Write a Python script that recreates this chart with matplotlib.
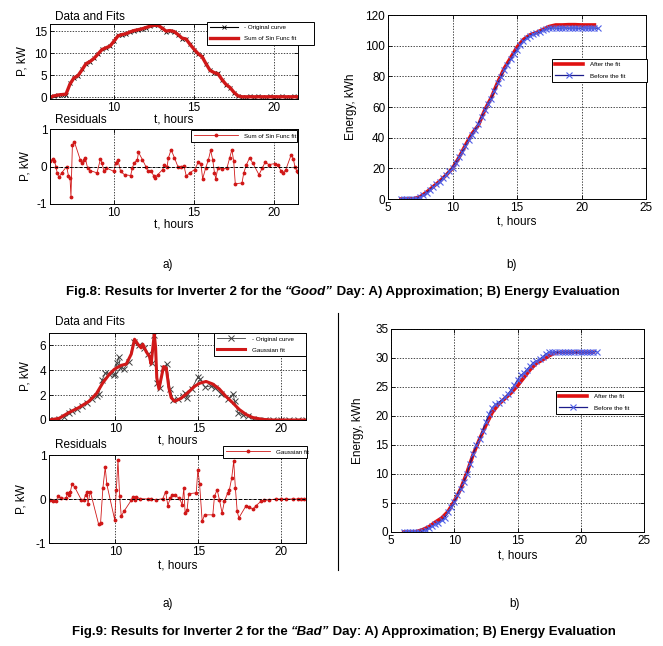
import numpy as np
import matplotlib
matplotlib.use('Agg')
import matplotlib.pyplot as plt
from matplotlib.lines import Line2D
from matplotlib.offsetbox import TextArea, HPacker, AnchoredOffsetbox

# ---- "Good" day (Fig.8) ----
# power, sampled every 15 min from 6:00
p_good_orig = [0.0, 0.2, 0.5, 0.6, 0.6, 3.2, 4.4, 4.8, 6.3, 7.6,
               8.0, 8.8, 9.8, 10.9, 11.1, 11.6, 12.8, 14.0, 14.2, 14.3,
               14.8, 15.1, 15.3, 15.5, 15.8, 16.1, 16.4, 16.3, 15.7, 14.9,
               15.1, 14.9, 14.2, 13.3, 13.2, 12.0, 10.8, 9.9, 9.3, 7.5,
               6.1, 5.6, 5.4, 4.0, 2.8, 2.2, 1.0, 0.3, 0.1, 0.0,
               0.2, 0.1, 0.2, 0.0, 0.1, 0.2, 0.0, 0.1, 0.2, 0.0,
               0.1, 0.2, 0.1]
p_good_fit = [0.0, 0.3, 0.5, 0.6, 0.7, 3.0, 4.4, 4.9, 6.2, 7.6,
              8.1, 8.8, 9.8, 10.8, 11.2, 11.6, 12.7, 13.9, 14.2, 14.4,
              14.8, 15.1, 15.3, 15.5, 15.8, 16.1, 16.3, 16.3, 15.7, 15.0,
              15.1, 14.9, 14.2, 13.4, 13.2, 12.0, 10.9, 9.9, 9.2, 7.6,
              6.1, 5.6, 5.3, 4.0, 2.9, 2.2, 1.1, 0.3, 0.1, 0.1,
              0.1, 0.1, 0.1, 0.1, 0.1, 0.1, 0.1, 0.1, 0.1, 0.1,
              0.1, 0.1, 0.1]

res_good_t = [6.03, 6.16, 6.27, 6.37, 6.45, 6.56, 6.73, 7.04, 7.15, 7.25,
              7.31, 7.4, 7.53, 7.89, 7.99, 8.1, 8.2, 8.35, 8.52, 8.94,
              9.15, 9.26, 9.36, 9.53, 9.99, 10.1, 10.24, 10.41, 10.66, 11.04,
              11.15, 11.25, 11.46, 11.53, 11.78, 11.99, 12.1, 12.31, 12.48, 12.56,
              12.73, 13.04, 13.15, 13.32, 13.4, 13.57, 13.78, 13.99, 14.2, 14.37,
              14.52, 14.73, 15.05, 15.26, 15.43, 15.54, 15.73, 15.9, 16.04, 16.17,
              16.28, 16.36, 16.49, 16.74, 17.06, 17.23, 17.37, 17.48, 17.58, 18.0,
              18.11, 18.28, 18.47, 18.68, 19.06, 19.27, 19.44, 19.69, 20.07, 20.22,
              20.43, 20.57, 20.74, 21.08, 21.21, 21.31, 21.42, 21.5]
res_good = [0.14, 0.2, 0.16, 0.0, -0.17, -0.29, -0.17, 0.0, -0.24, -0.3,
            -0.81, 0.58, 0.65, 0.18, 0.09, 0.18, 0.23, -0.04, -0.11, -0.17,
            0.2, 0.09, -0.13, -0.04, -0.13, 0.09, 0.18, -0.13, -0.22, -0.24,
            -0.04, 0.09, 0.18, 0.38, 0.18, 0.0, -0.11, -0.13, -0.24, -0.3,
            -0.22, -0.08, 0.05, 0.0, 0.23, 0.45, 0.23, 0.0, -0.01, 0.02,
            -0.26, -0.17, -0.08, 0.11, 0.08, -0.33, -0.04, 0.18, 0.43, 0.18,
            -0.17, -0.33, -0.04, -0.07, -0.04, 0.23, 0.45, 0.14, -0.46, -0.44,
            -0.17, 0.05, 0.23, 0.09, -0.22, -0.04, 0.11, 0.05, 0.08, 0.05,
            -0.11, -0.17, -0.08, 0.32, 0.2, -0.01, -0.11, -0.14]

# energy: after fit every 30 min, before fit every 15 min
e_good_after = [0, 0, 0.2, 1.5, 4.5, 8, 11.5, 15.5, 20, 27,
                35, 42.5, 48, 58, 66, 76, 85, 92, 99, 104,
                107, 108.5, 110.5, 112.5, 113.5, 113.5, 113.7, 113.7, 113.5, 113.5,
                113.5]
e_good_before = [0, 0, 0, 0, 0, 0.3, 1.5, 2.8, 4.2, 6.0,
                 7.8, 9.5, 11.2, 13.5, 15.8, 18.2, 20.5, 23.8, 27.2, 30.8,
                 34.5, 38.5, 42.0, 45.0, 49.0, 53.5, 58.0, 62.0, 65.5, 70.5,
                 75.5, 79.8, 84.0, 87.5, 91.0, 94.5, 97.5, 100.5, 103.0, 105.0,
                 106.5, 107.5, 108.2, 109.0, 110.0, 110.8, 111.2, 111.5,
                 111.5, 111.3, 111.5, 111.6, 111.4, 111.5, 111.5, 111.3, 111.5, 111.6,
                 111.4, 111.5, 111.5, 111.4]

# ---- "Bad" day (Fig.9) ----
p_bad_t = [6.0, 6.3, 6.6, 6.9, 7.2, 7.4, 7.7, 8.0, 8.3, 8.6,
           8.9, 9.0, 9.2, 9.4, 9.6, 9.9, 10.0, 10.1, 10.2, 10.3,
           10.5, 10.8, 11.1, 11.4, 11.7, 12.0, 12.2, 12.35, 12.5, 12.7,
           12.9, 13.1, 13.3, 13.5, 13.8, 14.1, 14.2, 14.3, 14.6, 15.0,
           15.1, 15.4, 15.8, 16.0, 16.4, 16.8, 17.1, 17.2, 17.4, 17.7,
           18.0, 18.3, 18.6, 19.0, 19.5, 20.0, 20.5, 21.0, 21.5]
p_bad_orig = [0, 0.02, 0.1, 0.25, 0.55, 0.7, 0.9, 1.15, 1.35, 1.7,
              1.95, 2.1, 3.2, 3.8, 3.7, 3.6, 3.7, 4.6, 5.1, 4.2,
              4.1, 4.7, 6.3, 6.0, 5.8, 5.3, 4.6, 6.8, 3.0, 2.6,
              4.2, 4.5, 2.5, 1.6, 1.65, 1.9, 2.2, 1.8, 2.5, 3.5,
              3.3, 2.65, 2.75, 2.6, 2.1, 1.7, 2.1, 1.5, 0.6, 0.4,
              0.3, 0.1, 0.0, 0, 0, 0, 0, 0, 0]
fit_bad_t = [6.0, 6.6, 7.2, 7.8, 8.4, 8.85, 9.25, 9.65, 9.96, 10.36,
             10.66, 10.96, 11.16, 11.36, 11.56, 11.66, 11.86, 12.06, 12.16, 12.26,
             12.35, 12.43, 12.5, 12.63, 12.77, 12.91, 13.07, 13.23, 13.37, 13.57,
             13.97, 14.37, 14.77, 15.07, 15.47, 15.87, 16.27, 16.67, 17.07, 17.47,
             17.88, 18.28, 18.88, 19.5, 20.5, 21.5]
p_bad_fit = [0.0, 0.13, 0.6, 1.0, 1.5, 2.1, 3.0, 3.7, 4.1, 4.4,
             4.5, 5.3, 6.5, 6.1, 5.8, 6.1, 5.5, 5.1, 4.5, 5.8,
             6.9, 5.8, 3.4, 2.5, 3.4, 4.3, 4.2, 2.6, 1.8, 1.5,
             1.75, 2.2, 2.7, 2.95, 3.1, 2.9, 2.5, 1.9, 1.4, 0.85,
             0.45, 0.2, 0.05, 0.0, 0.0, 0.0]

res_bad_t = [6.04, 6.24, 6.44, 6.54, 6.74, 7.04, 7.1, 7.2, 7.29, 7.39,
             7.55, 7.95, 8.09, 8.21, 8.29, 8.35, 8.49, 8.99, 9.11, 9.25,
             9.39, 9.49, 9.96, 10.06, 10.16, 10.26, 10.36, 10.52, 10.96, 11.06,
             11.16, 11.26, 11.46, 11.96, 12.16, 12.47, 12.87, 13.03, 13.17, 13.31,
             13.43, 13.57, 13.87, 14.03, 14.13, 14.21, 14.33, 14.43, 14.88, 14.98,
             15.08, 15.24, 15.38, 15.88, 15.98, 16.14, 16.28, 16.44, 16.58, 16.78,
             16.88, 17.02, 17.14, 17.24, 17.35, 17.45, 17.89, 18.09, 18.29, 18.49,
             18.79, 18.99, 19.29, 19.69, 20.0, 20.3, 20.7, 21.0, 21.2, 21.4]
res_bad = [-0.02, -0.04, -0.04, 0.06, 0.02, 0.02, 0.14, 0.1, 0.17, 0.34,
           0.27, -0.02, -0.03, 0.1, 0.15, -0.11, 0.17, -0.57, -0.55, 0.25,
           0.72, 0.33, -0.47, 0.21, 0.88, 0.06, -0.39, -0.28, -0.03, 0.05,
           -0.02, 0.05, 0.01, 0.0, 0.0, -0.02, 0.01, 0.17, -0.15, 0.02,
           0.1, 0.08, 0.02, -0.13, 0.25, -0.32, -0.24, 0.12, 0.14, 0.67,
           0.35, -0.51, -0.36, -0.36, 0.06, 0.21, -0.02, -0.32, -0.05, 0.14,
           0.21, 0.48, 0.86, 0.25, -0.28, -0.43, -0.15, -0.18, -0.23, -0.15,
           -0.05, -0.03, -0.02, 0.0, 0.0, 0.0, 0.0, 0.0, 0.0, 0.0]

e_bad_after = [0, 0, 0.05, 0.4, 0.9, 1.7, 2.4, 3.5, 5.3, 7.4,
               10.2, 13.4, 16.0, 18.4, 20.6, 22.0, 23.0, 24.0, 25.2, 26.6,
               28.0, 29.1, 29.7, 30.4, 30.9, 31.0, 31.0, 31.0, 31.0, 31.0,
               31.0]
e_bad_before = [0, 0, 0, 0, 0, 0.05, 0.2, 0.4, 0.7, 1.0,
                1.3, 1.6, 2.0, 2.5, 3.4, 4.3, 5.2, 6.4, 7.5, 8.7,
                10.0, 11.8, 13.5, 15.0, 16.0, 17.5, 19.0, 20.3, 21.4, 22.0,
                22.3, 22.7, 23.2, 23.8, 24.5, 25.3, 26.2, 27.0, 27.4, 28.0,
                28.6, 29.2, 29.5, 29.8, 30.2, 30.7, 31.0, 31.0, 31.0, 31.0,
                31.0, 31.0, 31.0, 31.0, 31.0, 31.0, 31.0, 31.0, 31.0, 31.0,
                31.1, 31.1]


def grid_times(vals, step):
    return 6.0 + step * np.arange(len(vals))


plt.rcParams['font.family'] = ['Liberation Sans', 'DejaVu Sans']
plt.rcParams['font.size'] = 8.5
plt.rcParams['axes.unicode_minus'] = False

W, H = 663, 646
fig = plt.figure(figsize=(W / 100, H / 100), dpi=100)
RED = '#d01818'
NAVY = '#1c1c8a'
LBLUE = '#4f5fe8'


def add_ax(x0, y0, x1, y1):
    return fig.add_axes([x0 / W, 1 - y1 / H, (x1 - x0) / W, (y1 - y0) / H])


def style(ax):
    ax.grid(True, color='black', linestyle=(0, (2, 2)), linewidth=0.5)
    ax.set_axisbelow(True)
    ax.tick_params(direction='in', length=3, width=0.6, top=True, right=True,
                   labelsize=8.5, pad=2)
    for s in ax.spines.values():
        s.set_linewidth(0.7)


def box_legend(ax, x0, y0, x1, y1, fs=4.5, hl=4.5):
    leg = ax.legend(loc='upper left', mode='expand',
                    bbox_to_anchor=(x0 / W, 1 - y1 / H, (x1 - x0) / W, (y1 - y0) / H),
                    bbox_transform=fig.transFigure, fontsize=fs, fancybox=False,
                    edgecolor='black', framealpha=1, borderpad=0.5, labelspacing=0.9,
                    handlelength=hl, handletextpad=1.0, borderaxespad=0)
    leg.get_frame().set_linewidth(0.7)
    return leg


def caption(cx, cy, num, word):
    fam = ['Liberation Sans Narrow', 'Liberation Sans']
    kw = dict(fontsize=9.5, fontweight='bold', family=fam)
    parts = [TextArea('Fig.%d: Results for Inverter 2 for the ' % num, textprops=kw),
             TextArea('\u201c%s\u201d' % word, textprops=dict(kw, fontstyle='italic')),
             TextArea(' Day: A) Approximation; B) Energy Evaluation', textprops=kw)]
    pack = HPacker(children=parts, sep=0, pad=0, align='baseline')
    fig.add_artist(AnchoredOffsetbox(loc='center', child=pack, pad=0, borderpad=0,
                                     frameon=False, bbox_to_anchor=(cx / W, 1 - cy / H),
                                     bbox_transform=fig.transFigure))


# ---------- Fig.8 a) data and fits ----------
ax = add_ax(50, 24, 298, 99)
t = grid_times(p_good_orig, 0.25)
ax.plot(t, p_good_orig, '-', color='black', lw=0.8, marker='x', ms=3.5, mew=0.6,
        label='- Original curve')
ax.plot(grid_times(p_good_fit, 0.25), p_good_fit, '-', color=RED, lw=2.4,
        label='Sum of Sin Func fit')
ax.set_xlim(6, 21.5)
ax.set_ylim(-0.4, 16.6)
ax.set_xticks([10, 15, 20])
ax.set_yticks([0, 5, 10, 15])
ax.set_xlabel('t, hours', labelpad=0)
ax.set_ylabel('P, kW', labelpad=4)
style(ax)
box_legend(ax, 207, 22, 314, 44)
fig.text(55 / W, 1 - 17 / H, 'Data and Fits', va='center', ha='left', fontsize=8.5)

# ---------- Fig.8 a) residuals ----------
ax = add_ax(50, 129, 298, 204)
ax.plot(res_good_t, res_good, '-', color=RED, lw=0.6, marker='.', ms=3.5,
        label='Sum of Sin Func fit')
ax.axhline(0, color='black', lw=0.7, linestyle=(0, (3, 2)))
ax.set_xlim(6, 21.5)
ax.set_ylim(-1, 1)
ax.set_xticks([10, 15, 20])
ax.set_yticks([-1, 0, 1])
ax.set_xlabel('t, hours', labelpad=0)
ax.set_ylabel('P, kW', labelpad=4)
style(ax)
box_legend(ax, 191, 130, 297, 143, hl=7)
fig.text(55 / W, 1 - 120 / H, 'Residuals', va='center', ha='left', fontsize=8.5)

# ---------- Fig.8 b) energy ----------
ax = add_ax(388, 15, 646, 199)
ax.plot(grid_times(e_good_after, 0.5), e_good_after, '-', color='#e01010', lw=2.6,
        label='After the fit')
ax.plot(grid_times(e_good_before, 0.25), e_good_before, '-', color=NAVY, lw=0.9,
        marker='x', ms=4, mec=LBLUE, mew=0.8, label='Before the fit')
ax.set_xlim(5, 25)
ax.set_ylim(0, 120)
ax.set_xticks([5, 10, 15, 20, 25])
ax.set_yticks(np.arange(0, 121, 20))
ax.set_xlabel('t, hours', labelpad=1)
ax.set_ylabel('Energy, kWh', labelpad=6)
style(ax)
box_legend(ax, 552, 59, 647, 84)

fig.text(168 / W, 1 - 265 / H, 'a)', ha='center', va='center', fontsize=8.5)
fig.text(512 / W, 1 - 265 / H, 'b)', ha='center', va='center', fontsize=8.5)
caption(343, 292, 8, 'Good')

# ---------- Fig.9 a) data and fits ----------
ax = add_ax(49, 333, 306, 420)
ax.plot(p_bad_t, p_bad_orig, '-', color='#404040', lw=0.6, marker='x', ms=4.5, mew=0.7,
        label='- Original curve')
ax.plot(fit_bad_t, p_bad_fit, '-', color=RED, lw=2.2, label='Gaussian fit')
ax.set_xlim(6, 21.5)
ax.set_ylim(0, 7)
ax.set_xticks([10, 15, 20])
ax.set_yticks([0, 2, 4, 6])
ax.set_xlabel('t, hours', labelpad=0)
ax.set_ylabel('P, kW', labelpad=6)
style(ax)
box_legend(ax, 214, 333, 306, 358)
fig.text(55 / W, 1 - 322 / H, 'Data and Fits', va='center', ha='left', fontsize=8.5)

# ---------- Fig.9 a) residuals ----------
ax = add_ax(49, 455, 306, 543)
ax.plot(res_bad_t, res_bad, '-', color=RED, lw=0.6, marker='.', ms=3.5,
        label='Gaussian fit')
ax.axhline(0, color='black', lw=0.7, linestyle=(0, (3, 2)))
ax.set_xlim(6, 21.5)
ax.set_ylim(-1, 1)
ax.set_xticks([10, 15, 20])
ax.set_yticks([-1, 0, 1])
ax.set_xlabel('t, hours', labelpad=1)
ax.set_ylabel('P, kW', labelpad=6)
style(ax)
box_legend(ax, 223, 446, 307, 459, hl=7)
fig.text(55 / W, 1 - 445 / H, 'Residuals', va='center', ha='left', fontsize=8.5)

# ---------- Fig.9 b) energy ----------
ax = add_ax(391, 329, 644, 532)
ax.plot(grid_times(e_bad_after, 0.5), e_bad_after, '-', color='#e01010', lw=2.6,
        label='After the fit')
ax.plot(grid_times(e_bad_before, 0.25), e_bad_before, '-', color=NAVY, lw=0.9,
        marker='x', ms=4, mec=LBLUE, mew=0.8, label='Before the fit')
ax.set_xlim(5, 25)
ax.set_ylim(0, 35)
ax.set_xticks([5, 10, 15, 20, 25])
ax.set_yticks(np.arange(0, 36, 5))
ax.set_xlabel('t, hours', labelpad=2)
ax.set_ylabel('Energy, kWh', labelpad=8)
style(ax)
box_legend(ax, 556, 391, 644, 416)

fig.add_artist(Line2D([338 / W, 338 / W], [1 - 313 / H, 1 - 570 / H], color='black', lw=0.8))
fig.text(168 / W, 1 - 604 / H, 'a)', ha='center', va='center', fontsize=8.5)
fig.text(515 / W, 1 - 604 / H, 'b)', ha='center', va='center', fontsize=8.5)
caption(344, 632, 9, 'Bad')

fig.savefig('out.png', dpi=100)
